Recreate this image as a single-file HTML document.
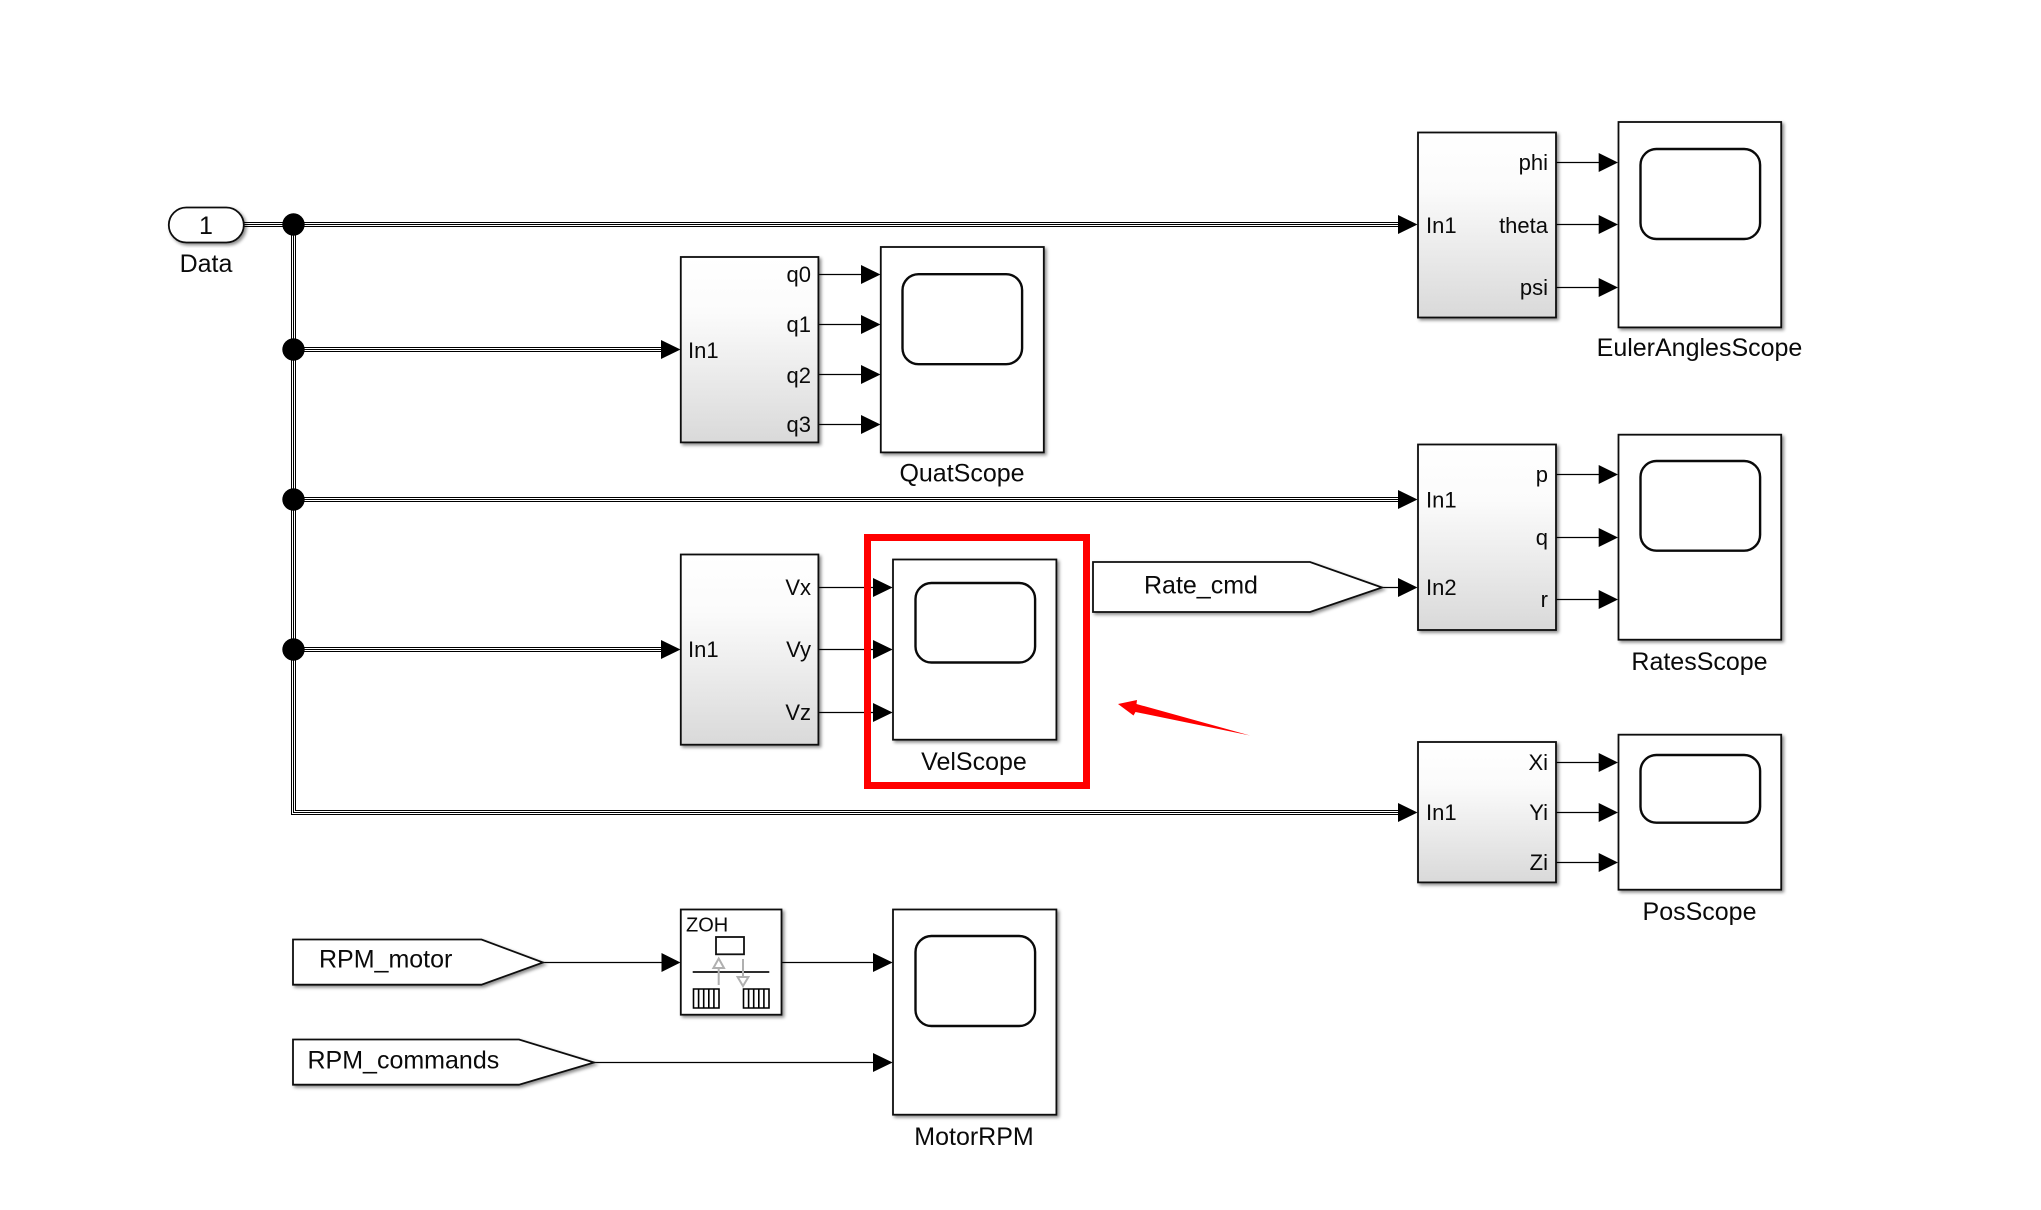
<!DOCTYPE html>
<html>
<head>
<meta charset="utf-8">
<style>
html,body{margin:0;padding:0;background:#fff;}
svg{display:block;}
text{font-family:"Liberation Sans",Arial,sans-serif;fill:#0a0a0a;}
.p{font-size:22px;}
.l{font-size:25px;}
.m{text-anchor:middle;}
.e{text-anchor:end;}
.b{stroke:#111;stroke-width:1.8;filter:url(#sh);}
.s{fill:#fff;stroke:#111;stroke-width:1.8;filter:url(#sh);}
.sc{fill:#fff;stroke:#0a0a0a;stroke-width:2.4;}
.w{fill:none;stroke:#000;stroke-width:1.3;}
.a{fill:#000;}
</style>
</head>
<body>
<svg xmlns="http://www.w3.org/2000/svg" width="2041" height="1210" viewBox="0 0 2041 1210">
<defs>
<linearGradient id="g" x1="0" y1="0" x2="0" y2="1">
<stop offset="0" stop-color="#fff"/>
<stop offset="0.3" stop-color="#fbfbfb"/>
<stop offset="1" stop-color="#d9d9d9"/>
</linearGradient>
<filter id="sh" x="-10%" y="-10%" width="125%" height="125%">
<feDropShadow dx="2" dy="2" stdDeviation="1.5" flood-color="#000" flood-opacity="0.45"/>
</filter>
</defs>
<rect width="2041" height="1210" fill="#fff"/>

<!-- bus lines -->
<path fill="none" stroke="#000" stroke-width="5" d="M243 224.5H1400M293.5 224.5V812.5H1400M293 349.5H663M293 649.5H663M293 499.5H1400"/>
<path fill="none" stroke="#fff" stroke-width="3" d="M243 224.5H1400M293.5 224.5V812.5H1400M293 349.5H663M293 649.5H663M293 499.5H1400"/>
<path fill="none" stroke="#000" stroke-width="1" d="M243 224.5H1400M293.5 224.5V812.5H1400M293 349.5H663M293 649.5H663M293 499.5H1400"/>
<circle cx="293.5" cy="224.5" r="11.2" fill="#000"/>
<circle cx="293.5" cy="349.5" r="11.2" fill="#000"/>
<circle cx="293.5" cy="499.5" r="11.2" fill="#000"/>
<circle cx="293.5" cy="649.5" r="11.2" fill="#000"/>

<!-- thin signal lines -->
<g class="w">
<path d="M819 274.5H862M819 324.5H862M819 374.5H862M819 424.5H862"/>
<path d="M819 587.5H874M819 649.5H874M819 712.5H874"/>
<path d="M1382 587.5H1399"/>
<path d="M1556 162.5H1599M1556 224.5H1599M1556 287.5H1599"/>
<path d="M1556 474.5H1599M1556 537.5H1599M1556 599.5H1599"/>
<path d="M1556 762.5H1599M1556 812.5H1599M1556 862.5H1599"/>
<path d="M543 962.5H662M781 962.5H874M593 1062.5H874"/>
</g>

<!-- inport -->
<rect class="s" x="168.8" y="207.5" width="75" height="35" rx="17.5" ry="17.5"/>
<text class="l m" x="206" y="234">1</text>
<text class="l m" x="206" y="272">Data</text>

<!-- subsystems -->
<rect class="b" fill="url(#g)" x="680.8" y="257" width="137.6" height="185.4"/>
<rect class="b" fill="url(#g)" x="680.8" y="554.5" width="137.6" height="190.2"/>
<rect class="b" fill="url(#g)" x="1418" y="132.5" width="138" height="185"/>
<rect class="b" fill="url(#g)" x="1418" y="444.5" width="138" height="185.5"/>
<rect class="b" fill="url(#g)" x="1418" y="742" width="138" height="140.4"/>

<!-- scopes -->
<rect class="s" x="880.8" y="247" width="163" height="205.4"/>
<rect class="sc" x="902.5" y="274.2" width="119.6" height="90" rx="16"/>
<rect class="s" x="893" y="559.5" width="163.4" height="180.2"/>
<rect class="sc" x="915.5" y="583" width="119.6" height="79.5" rx="16"/>
<rect class="s" x="1618.5" y="122" width="162.7" height="205.4"/>
<rect class="sc" x="1640.5" y="149" width="119.6" height="90" rx="16"/>
<rect class="s" x="1618.5" y="434.7" width="162.7" height="205"/>
<rect class="sc" x="1640.5" y="461" width="119.6" height="89.7" rx="16"/>
<rect class="s" x="1618.5" y="734.7" width="162.7" height="155"/>
<rect class="sc" x="1640.5" y="755" width="119.6" height="67.7" rx="16"/>
<rect class="s" x="893" y="909.5" width="163.4" height="205.2"/>
<rect class="sc" x="915.5" y="936" width="119.6" height="90" rx="16"/>

<!-- goto tags -->
<path class="s" d="M1093 562H1310L1382 587.5L1310 612H1093Z"/>
<text class="l" x="1144" y="593.5">Rate_cmd</text>
<path class="s" d="M293 939.5H481.5L543 962.5L481.5 984.7H293Z"/>
<text class="l" x="319" y="967.5">RPM_motor</text>
<path class="s" d="M293 1039.5H519L594 1062.5L519 1084.7H293Z"/>
<text class="l" x="307.5" y="1068.5">RPM_commands</text>

<!-- ZOH -->
<rect class="s" x="680.8" y="909.5" width="100.7" height="105.2"/>
<text x="686" y="931.5" style="font-size:20px">ZOH</text>
<rect x="716" y="937" width="28" height="17.3" fill="#fff" stroke="#111" stroke-width="1.8"/>
<path d="M692.7 972H769.3" stroke="#111" stroke-width="1.8" fill="none"/>
<path d="M718.7 985V968M743 959V977" stroke="#b0b0b0" stroke-width="2" fill="none"/>
<path d="M718.7 958.5L724 968H713.4Z" fill="#fff" stroke="#b0b0b0" stroke-width="2"/>
<path d="M743 986L748.4 977H737.6Z" fill="#fff" stroke="#b0b0b0" stroke-width="2"/>
<path d="M693.5 989H719V1008H693.5ZM698.6 989V1008M703.7 989V1008M708.8 989V1008M713.9 989V1008" fill="#fff" stroke="#000" stroke-width="1.6"/>
<path d="M743.5 989H769V1008H743.5ZM748.6 989V1008M753.7 989V1008M758.8 989V1008M763.9 989V1008" fill="#fff" stroke="#000" stroke-width="1.6"/>

<!-- red highlight -->
<rect x="867.5" y="537.5" width="219" height="248" fill="none" stroke="#ff0000" stroke-width="7"/>
<polygon points="1118,704 1137,700 1136.5,704 1250,735.5 1135.5,712 1133.5,715.5" fill="#ff0000"/>

<!-- arrowheads -->
<g class="a">
<polygon points="661,340 680.5,349.5 661,359"/>
<polygon points="661,640 680.5,649.5 661,659"/>
<polygon points="1398,215 1417.5,224.5 1398,234"/>
<polygon points="1398,490 1417.5,499.5 1398,509"/>
<polygon points="1398,578 1417.5,587.5 1398,597"/>
<polygon points="1398,803 1417.5,812.5 1398,822"/>
<polygon points="861,265 880.5,274.5 861,284"/>
<polygon points="861,315 880.5,324.5 861,334"/>
<polygon points="861,365 880.5,374.5 861,384"/>
<polygon points="861,415 880.5,424.5 861,434"/>
<polygon points="873,578 892.7,587.5 873,597"/>
<polygon points="873,640 892.7,649.5 873,659"/>
<polygon points="873,703 892.7,712.5 873,722"/>
<polygon points="1598.7,153 1618,162.5 1598.7,172"/>
<polygon points="1598.7,215 1618,224.5 1598.7,234"/>
<polygon points="1598.7,278 1618,287.5 1598.7,297"/>
<polygon points="1598.7,465 1618,474.5 1598.7,484"/>
<polygon points="1598.7,528 1618,537.5 1598.7,547"/>
<polygon points="1598.7,590 1618,599.5 1598.7,609"/>
<polygon points="1598.7,753 1618,762.5 1598.7,772"/>
<polygon points="1598.7,803 1618,812.5 1598.7,822"/>
<polygon points="1598.7,853 1618,862.5 1598.7,872"/>
<polygon points="661.5,953 680.5,962.5 661.5,972"/>
<polygon points="873,953 892.7,962.5 873,972"/>
<polygon points="873,1053 892.7,1062.5 873,1072"/>
</g>

<!-- port labels -->
<text class="p" x="688" y="358">In1</text>
<text class="p e" x="811" y="282">q0</text>
<text class="p e" x="811" y="332">q1</text>
<text class="p e" x="811" y="383">q2</text>
<text class="p e" x="811" y="432">q3</text>

<text class="p" x="688" y="657">In1</text>
<text class="p e" x="811" y="595">Vx</text>
<text class="p e" x="811" y="657">Vy</text>
<text class="p e" x="811" y="720">Vz</text>

<text class="p" x="1426" y="233">In1</text>
<text class="p e" x="1548" y="170">phi</text>
<text class="p e" x="1548" y="233">theta</text>
<text class="p e" x="1548" y="295">psi</text>

<text class="p" x="1426" y="507.5">In1</text>
<text class="p" x="1426" y="595">In2</text>
<text class="p e" x="1548" y="482">p</text>
<text class="p e" x="1548" y="545">q</text>
<text class="p e" x="1548" y="607">r</text>

<text class="p" x="1426" y="820">In1</text>
<text class="p e" x="1548" y="770">Xi</text>
<text class="p e" x="1548" y="820">Yi</text>
<text class="p e" x="1548" y="870">Zi</text>

<!-- block labels -->
<text class="l m" x="966" y="481.7" style="text-anchor:middle" dx="-4">QuatScope</text>
<text class="l m" x="979" y="770" dx="-5">VelScope</text>
<text class="l m" x="1699.5" y="356">EulerAnglesScope</text>
<text class="l m" x="1699.5" y="670">RatesScope</text>
<text class="l m" x="1699.5" y="920">PosScope</text>
<text class="l m" x="979" y="1145" dx="-5">MotorRPM</text>
</svg>
</body>
</html>
